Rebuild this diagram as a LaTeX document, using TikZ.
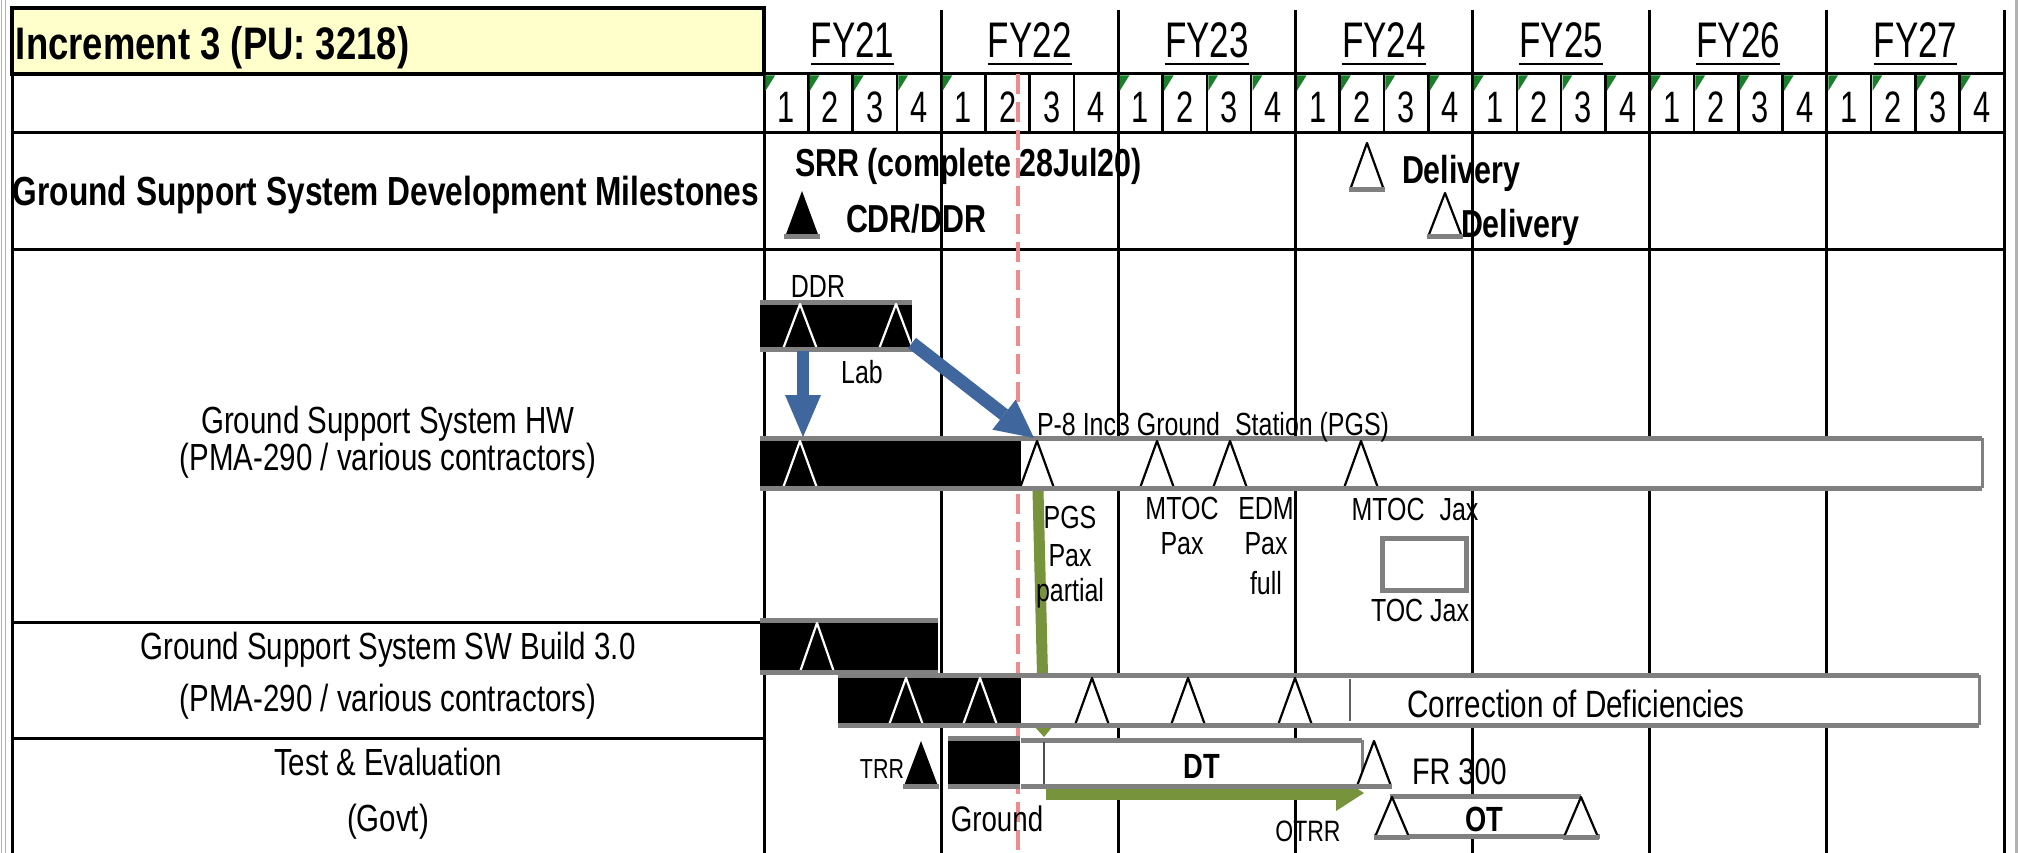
\documentclass[tikz,border=0pt]{standalone}
\usepackage{fontspec}
\setmainfont{Liberation Sans}[FakeStretch=0.78]
\newfontfamily\condfont{Liberation Sans}[FakeStretch=0.8]
\newfontfamily\digfont{Liberation Sans}[FakeStretch=0.7]
\usetikzlibrary{calc}
\definecolor{titleyellow}{HTML}{FFFFCC}
\definecolor{bargray}{HTML}{808080}
\definecolor{qgreen}{HTML}{1A7F2A}
\definecolor{arrowblue}{HTML}{3F679E}
\definecolor{arrowgreen}{HTML}{77933C}
\definecolor{todayred}{HTML}{EE8A90}
\newcommand{\fs}[1]{\fontsize{#1}{#1}\selectfont}
% open triangle (black edges) : x, apex y, base y
\newcommand{\otri}[3]{%
  \fill[white] (#1-17,#3) -- (#1,#2) -- (#1+17,#3) -- cycle;
  \draw[line width=2.2pt, black, line join=round] (#1-17,#3) -- (#1,#2) -- (#1+17,#3);
  \draw[line width=5pt, bargray] (#1-18,#3) -- (#1+18,#3);}
% white-edged triangle on a black bar
\newcommand{\wtri}[3]{%
  \draw[line width=2.2pt, white, line join=round] (#1-17,#3) -- (#1,#2) -- (#1+17,#3);
  \draw[line width=5pt, bargray] (#1-18,#3) -- (#1+18,#3);}
% filled black triangle
\newcommand{\btri}[3]{%
  \fill[black] (#1-17,#3) -- (#1,#2) -- (#1+17,#3) -- cycle;
  \draw[line width=5pt, bargray] (#1-18,#3) -- (#1+18,#3);}
% gantt bar: x1, y1, x2, y2, fill
\newcommand{\ganttbar}[5]{%
  \fill[#5] (#1,#2) rectangle (#3,#4);
  \draw[bargray, line width=5pt] (#1,#2) -- (#3,#2);
  \draw[bargray, line width=5pt] (#1,#4) -- (#3,#4);}
% block arrow: colour, from, to, shaft width, head length, head half width
\newcommand{\blockarrow}[6]{%
  \coordinate (tmpC) at ($(#3)!#5!(#2)$);
  \draw[#1, line width=#4] (#2) -- (tmpC);
  \fill[#1] (#3) -- ($(tmpC)!#6!90:(#3)$) -- ($(tmpC)!#6!-90:(#3)$) -- cycle;}
\begin{document}
\begin{tikzpicture}[x=1pt,y=-1pt,
  gridline/.style={black, line width=3pt},
  qline/.style={black, line width=2.5pt},
  edge/.style={bargray, line width=3pt},
  txt/.style={anchor=base, inner sep=0pt, outer sep=0pt, text=black},
  lab/.style={txt, font=\fs{37.8}},
  smalllab/.style={txt, font=\fs{32}},
  boldlab/.style={txt, font=\fs{39}\bfseries},
  fylab/.style={txt, font=\digfont\fs{50}},
  digit/.style={txt, font=\digfont\fs{44}}]
\useasboundingbox (0,0) rectangle (2019,853);
\fill[white] (0,0) rectangle (2019,853);
% window borders
\draw[gray!60, line width=1.5pt] (1.5,0) -- (1.5,853);
\draw[gray!60, line width=1.5pt] (5.5,0) -- (5.5,853);
\draw[gray!60, line width=3pt] (2016,0) -- (2016,853);
% title
\draw[line width=4pt, fill=titleyellow] (12,8) rectangle (764,74);
% grid
\draw[gridline] (12,8) -- (12,853);
\draw[gridline] (764,8) -- (764,853);
\foreach \k in {1,...,7} \draw[gridline] ({764+\k*177.143},10) -- ({764+\k*177.143},853);
\draw[gridline] (764,74) -- (2004,74);
\draw[gridline] (12,133) -- (2004,133);
\draw[gridline] (12,250) -- (2004,250);
\draw[gridline] (12,622) -- (764,622);
\draw[gridline] (12,738) -- (764,738);
\foreach \j in {1,...,27} \draw[qline] ({764+\j*44.2857},74) -- ({764+\j*44.2857},133);
\foreach \j in {0,1,2,3,4,8,9,10,11,12,13,14,15,16,17,18,19,20,21,22,23,24,25,26,27}
  \fill[qgreen] ({764+\j*44.2857+1.4},75.5) -- ({764+\j*44.2857+11},75.5) -- ({764+\j*44.2857+1.4},91) -- cycle;
\foreach \j in {0,...,27} {
  \pgfmathtruncatemacro\qd{mod(\j,4)+1}
  \node[digit] (q\j) at ({764+(\j+0.5)*44.2857},123) {\qd};
}
\foreach \k/\t in {0/21,1/22,2/23,3/24,4/25,5/26,6/27} {
  \node[fylab] (fy\t) at ({764+(\k+0.5)*177.143},58) {FY\t};
  \draw[line width=2.5pt] ([yshift=-6pt]fy\t.base west) -- ([yshift=-6pt]fy\t.base east);
}
% today line
\draw[todayred, line width=3.2pt, dash pattern=on 20pt off 8pt] (1018,74) -- (1018,853);
% green arrows (behind bars)
\coordinate (gA) at (1038,490); \coordinate (gB) at (1044,737);
\blockarrow{arrowgreen}{gA}{gB}{11pt}{15pt}{13pt}
\coordinate (hA) at (1046,793); \coordinate (hB) at (1364,793);
\blockarrow{arrowgreen}{hA}{hB}{13pt}{28pt}{18pt}
% bars
\ganttbar{760}{302}{912}{349}{black}
\ganttbar{1021}{438}{1982}{488}{white}
\draw[edge] (1982,438) -- (1982,488);
\ganttbar{760}{438}{1021}{488}{black}
\ganttbar{760}{620}{938}{672}{black}
\ganttbar{1021}{675}{1979}{725}{white}
\draw[edge] (1979,675) -- (1979,725);
\ganttbar{838}{675}{1021}{725}{black}
\draw[bargray!75!black, line width=2.5pt] (1350,679) -- (1350,721);
\ganttbar{948}{738}{1020}{786}{black}
\ganttbar{1021}{740}{1362}{786}{white}
\draw[edge] (1362,740) -- (1362,786);
\draw[bargray!60!black, line width=2.5pt] (1044,742) -- (1044,784);
\draw[draw=bargray, line width=5pt, fill=white] (1382,538) rectangle (1466,590);
\ganttbar{1390}{796}{1581}{836}{white}
\draw[bargray, line width=5pt] (1374,836) -- (1600,836);
% triangles
\btri{802}{191}{237}
\otri{1367}{143}{190}
\otri{1445}{193}{237}
\wtri{800}{304}{349}
\wtri{896}{304}{349}
\wtri{800}{441}{488}
\otri{1037}{441}{488}
\otri{1157}{441}{488}
\otri{1230}{441}{488}
\otri{1361}{441}{488}
\wtri{817}{623}{672}
\wtri{906}{678}{725}
\wtri{980}{678}{725}
\otri{1092}{678}{725}
\otri{1188}{678}{725}
\otri{1295}{678}{725}
\btri{921}{741}{786}
\otri{1374}{741}{786}
\otri{1392}{797}{837}
\otri{1581}{797}{837}
% blue arrows
\coordinate (bA) at (803,351); \coordinate (bB) at (803,437);
\blockarrow{arrowblue}{bA}{bB}{12pt}{42pt}{18pt}
\coordinate (dA) at (912,343); \coordinate (dB) at (1034,438);
\blockarrow{arrowblue}{dA}{dB}{13pt}{38pt}{19pt}
% texts
\node[txt, font=\condfont\fs{45.6}\bfseries, anchor=base west] (title) at (16,60) {Increment 3 (PU: 3218)};
\node[txt, font=\fs{40.6}\bfseries] (msl) at (386,206) {Ground Support System Development Milestones};
\node[lab] (hw1) at (388,433) {Ground Support System HW};
\node[lab] (hw2) at (388,470) {(PMA-290 / various contractors)};
\node[lab] (sw1) at (388,659) {Ground Support System SW Build 3.0};
\node[lab] (sw2) at (388,711) {(PMA-290 / various contractors)};
\node[lab] (te1) at (388,775) {Test \& Evaluation};
\node[lab] (te2) at (388,831) {(Govt)};
\node[boldlab, anchor=base west] (srr) at (795,177) {SRR (complete 28Jul20)};
\node[boldlab, anchor=base west] (cdr) at (846,233) {CDR/DDR};
\node[boldlab, anchor=base west] (del1) at (1402,184) {Delivery};
\node[boldlab, anchor=base west] (del2) at (1461,237) {Delivery};
\node[smalllab] (ddr) at (818,297) {DDR};
\node[smalllab] (lab) at (862,383) {Lab};
\node[smalllab, anchor=base west] (p8) at (1037,435) {P-8 Inc3 Ground\hspace{0.25em} Station (PGS)};
\node[smalllab] (pgs1) at (1070,528) {PGS};
\node[smalllab] (pgs2) at (1070,566) {Pax};
\node[smalllab] (pgs3) at (1070,601) {partial};
\node[smalllab] (mtoc1) at (1182,519) {MTOC};
\node[smalllab] (mtoc2) at (1182,554) {Pax};
\node[smalllab] (edm1) at (1266,519) {EDM};
\node[smalllab] (edm2) at (1266,554) {Pax};
\node[smalllab] (edm3) at (1266,594) {full};
\node[smalllab] (mtocj) at (1415,520) {MTOC\hspace{0.25em} Jax};
\node[smalllab] (tocj) at (1420,621) {TOC Jax};
\node[txt, font=\fs{38}] (cod) at (1576,717) {Correction of Deficiencies};
\node[txt, font=\fs{27.5}, anchor=base east] (trr) at (904,778) {TRR};
\node[txt, font=\fs{35.5}] (gnd) at (997,831) {Ground};
\node[txt, font=\fs{35}\bfseries] (dt) at (1202,778) {DT};
\node[txt, font=\fs{37}, anchor=base west] (fr) at (1412,784) {FR 300};
\node[txt, font=\fs{35}\bfseries] (ot) at (1484,831) {OT};
\node[txt, font=\fs{29.5}] (otrr) at (1308,841) {OTRR};
\end{tikzpicture}
\end{document}
